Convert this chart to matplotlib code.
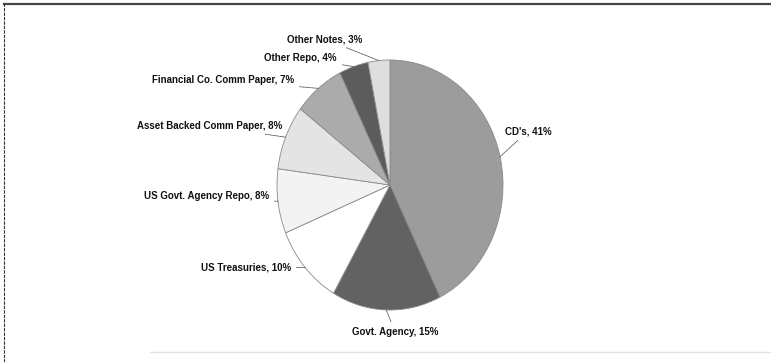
import numpy as np
import matplotlib.pyplot as plt
from matplotlib.lines import Line2D

# Portfolio composition (percent of holdings), clockwise from 12 o'clock
categories = ["CD's", "Govt. Agency", "US Treasuries", "US Govt. Agency Repo",
              "Asset Backed Comm Paper", "Financial Co. Comm Paper",
              "Other Repo", "Other Notes"]
shares = [41, 15, 10, 8, 8, 7, 4, 3]
slice_colors = ["#9c9c9c", "#626262", "#ffffff", "#f3f3f3",
                "#e4e4e4", "#ababab", "#5c5c5c", "#dedede"]

# label placement in pixels from top-left: (x, y, alignment)
label_pos = [(505, 131, "left"), (395, 332, "center"), (291, 268, "right"),
             (269, 196, "right"), (282, 126, "right"), (294, 80, "right"),
             (337, 58, "right"), (362, 39, "right")]

W, H = 771, 362
fig = plt.figure(figsize=(W / 100, H / 100), dpi=100)
ax = fig.add_axes([0, 0, 1, 1])

# pie is slightly taller than wide, so squash the y data scale
rx, ry = 113, 125
sy = rx / ry
cx, cy = 390, (H - 185) * sy

wedges, _ = ax.pie(shares, colors=slice_colors, startangle=90, counterclock=False,
                   radius=rx, center=(cx, cy),
                   wedgeprops=dict(edgecolor="#8a8a8a", linewidth=0.6))
ax.set_xlim(0, W)
ax.set_ylim(0, H * sy)
ax.set_aspect("auto")
ax.axis("off")

for w, name, val, (tx, ty, ha) in zip(wedges, categories, shares, label_pos):
    mid = np.deg2rad((w.theta1 + w.theta2) / 2)
    ex = cx + rx * np.cos(mid)
    ey = cy + rx * np.sin(mid)
    ax.annotate(f"{name}, {val}%", xy=(ex, ey), xycoords="data",
                xytext=(tx, H - ty), textcoords="figure pixels",
                ha=ha, va="center", fontsize=7, fontweight="bold",
                family="Liberation Sans", color="#111111",
                arrowprops=dict(arrowstyle="-", color="#555555", lw=0.6,
                                linestyle=(0, (2, 1)), shrinkA=2, shrinkB=0))

# outer frame: dark top rule, dashed left rule, faint bottom rule
fig.add_artist(Line2D([4 / W, 1], [1 - 4 / H, 1 - 4 / H], color="#444444", lw=1.6))
fig.add_artist(Line2D([4 / W, 4 / W], [0, 1 - 4 / H], color="#333333", lw=0.8,
                      linestyle=(0, (3, 1))))
fig.add_artist(Line2D([150 / W, 1], [10 / H, 10 / H], color="#e2e2e2", lw=1.0))

fig.savefig("out.png", dpi=100)
